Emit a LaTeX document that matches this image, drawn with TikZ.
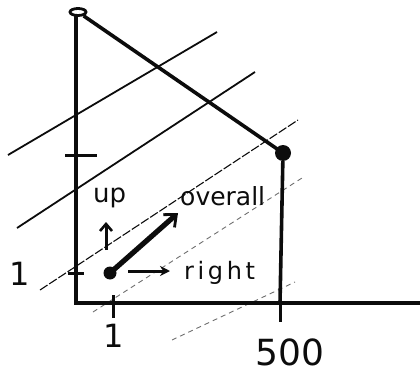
\documentclass[tikz,border=0pt]{standalone}
\usepackage{fontspec}
\setmainfont{DejaVu Sans}
\usepackage{tikz}
\usetikzlibrary{
    positioning,
    arrows.meta,
    shapes.geometric
}
\definecolor{InkBlack}{RGB}{12,12,12}
\definecolor{FaintGray}{RGB}{110,110,110}

\begin{document}
\begin{tikzpicture}[x=1pt, y=-1pt,
    axis/.style={line width=3.6pt, color=InkBlack, line cap=round},
    tickmark/.style={line width=3pt, color=InkBlack},
    route/.style={line width=3.6pt, color=InkBlack, line join=round},
    lvlsolid/.style={line width=1.8pt, color=InkBlack},
    lvldash/.style={line width=1.1pt, color=InkBlack, dash pattern=on 9pt off 2pt},
    lvlfaint/.style={line width=0.9pt, color=FaintGray, dash pattern=on 5pt off 4pt},
    openpt/.style={ellipse, draw=InkBlack, line width=2.8pt, fill=white, minimum width=16pt, minimum height=7pt, inner sep=0pt},
    dotpt/.style={circle, fill=InkBlack, minimum size=16pt, inner sep=0pt},
    bigarrow/.style={line width=5.2pt, color=InkBlack, -{Straight Barb[length=10pt, width=17pt, line width=2.8pt]}},
    smallarrow/.style={line width=3pt, color=InkBlack, -{Stealth[length=10pt, width=10pt]}},
    uparrow/.style={line width=3pt, color=InkBlack, -{Straight Barb[length=7pt, width=12pt, line width=2.6pt]}},
    lbl/.style={font=\fontsize{24}{26}\selectfont, color=InkBlack, inner sep=0pt},
    numlbl/.style={font=\fontsize{32}{34}\selectfont, color=InkBlack, inner sep=0pt},
]
\useasboundingbox (0,0) rectangle (420,377);

% level lines
\foreach \xa/\ya/\xb/\yb/\s in {8/155/217/32/lvlsolid, 17/228/255/72/lvlsolid, 40/290/298/120/lvldash, 93/312/302/178/lvlfaint, 172/340/295/282/lvlfaint}{
  \draw[\s] (\xa,\ya) -- (\xb,\yb);
}

% axes
\coordinate (o) at (76,303);
\coordinate (yend) at (76,14);
\coordinate (xend) at (420,303);
\draw[axis] (yend) -- (o) -- (xend);

% ticks
\draw[tickmark] (113,295) -- (113,318);
\draw[tickmark] (280,290) -- (280,322);
\draw[tickmark] (68,273) -- (84,273);
\draw[tickmark] (65,155) -- (97,155);

% path of points
\node[openpt] (top) at (78,12) {};
\node[dotpt] (knee) at (283,153) {};
\coordinate (foot) at (280,303);
\draw[route] (top) -- (knee.center);
\draw[route] (knee) -- (foot);

% start point and directions
\node[dotpt, minimum size=13pt] (start) at (110,273) {};
\coordinate (rtail) at (128,271);
\coordinate (rtip) at (170,271);
\coordinate (otip) at (178,213);
\coordinate (utail) at (106,250);
\coordinate (utip) at (106,222);
\draw[smallarrow] (rtail) -- (rtip);
\draw[bigarrow] (start.center) -- (otip);
\draw[uparrow] (utail) -- (utip);

% labels
\node[lbl, right=14pt of rtip, yshift=-2pt, font=\fontsize{24}{26}\selectfont\addfontfeatures{LetterSpace=15}] (rlbl) {right};
\node[lbl, anchor=base west, font=\fontsize{25}{26}\selectfont] (olbl) at (180,205) {overall};
\node[lbl, anchor=base west, font=\fontsize{26}{28}\selectfont] (ulbl) at (93,202) {up};
\node[numlbl] (ylbl) at (20,274) {1};
\node[numlbl] (xlbl) at (114,336) {1};
\node[numlbl, font=\fontsize{36}{38}\selectfont] (xmax) at (290,352) {500};
\end{tikzpicture}
\end{document}
